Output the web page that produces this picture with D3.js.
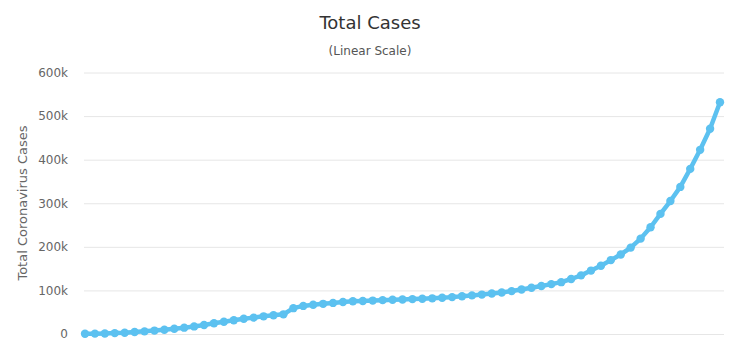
<!DOCTYPE html>
<html><head><meta charset="utf-8">
<script src="https://cdn.jsdelivr.net/npm/d3@7"></script>
<style>body{margin:0;background:#fff;}svg{display:block;font-family:"DejaVu Sans","Lucida Grande",sans-serif;}</style>
</head><body>
<svg id="c" width="740" height="342"></svg>
<script>
const dates = ["Jan 22","Jan 23","Jan 24","Jan 25","Jan 26","Jan 27","Jan 28","Jan 29","Jan 30","Jan 31",
"Feb 01","Feb 02","Feb 03","Feb 04","Feb 05","Feb 06","Feb 07","Feb 08","Feb 09","Feb 10","Feb 11","Feb 12","Feb 13","Feb 14","Feb 15","Feb 16","Feb 17","Feb 18","Feb 19","Feb 20","Feb 21","Feb 22","Feb 23","Feb 24","Feb 25","Feb 26","Feb 27","Feb 28","Feb 29",
"Mar 01","Mar 02","Mar 03","Mar 04","Mar 05","Mar 06","Mar 07","Mar 08","Mar 09","Mar 10","Mar 11","Mar 12","Mar 13","Mar 14","Mar 15","Mar 16","Mar 17","Mar 18","Mar 19","Mar 20","Mar 21","Mar 22","Mar 23","Mar 24","Mar 25","Mar 26"];
const totalCases = [580,845,1317,2015,2800,4581,6058,7813,9823,11950,
14553,17391,20630,24545,28266,31439,34876,37552,40553,43099,45134,59287,64438,67100,69197,71329,73332,75184,75700,76677,77673,78651,79205,80087,80828,81820,83112,84615,86604,
88585,90443,93016,95314,98425,102050,106099,109991,114381,118948,126214,134576,145483,156653,169593,182490,198238,218822,244933,275597,305036,337489,378830,422574,471035,531865];
const yTicks = [0,100000,200000,300000,400000,500000,600000];
const yTickLabels = ["0","100k","200k","300k","400k","500k","600k"];

(function(){
const svg = d3.select("#c");
const pL = 84, pR = 724, pT = 72.5, pB = 334;
const x = d3.scalePoint().domain(dates).range([85, 720]);
const y = d3.scaleLinear().domain([0, 600000]).range([pB, pT]);

svg.append("text").attr("x", 370).attr("y", 29).attr("text-anchor","middle")
  .attr("font-size", 18).attr("fill","#333").text("Total Cases");
svg.append("text").attr("x", 370).attr("y", 55).attr("text-anchor","middle")
  .attr("font-size", 12).attr("fill","#555").text("(Linear Scale)");

const yAxis = d3.axisLeft(y).tickValues(yTicks).tickFormat((d,i)=>yTickLabels[i]).tickSize(-(pR-pL)).tickPadding(16);
const g = svg.append("g").attr("transform", `translate(${pL},0)`).call(yAxis);
g.select(".domain").remove();
g.selectAll(".tick line").attr("stroke","#e6e6e6").attr("stroke-width",1);
g.selectAll(".tick text").attr("fill","#666").attr("font-size",12).attr("font-family","DejaVu Sans, sans-serif");

svg.append("text").attr("transform","translate(27,203) rotate(-90)").attr("text-anchor","middle")
  .attr("font-size",13).attr("fill","#666").text("Total Coronavirus Cases");

const color = "#5cc1f0";
const line = d3.line().x((d,i)=>x(dates[i])).y(d=>y(d));
svg.append("path").datum(totalCases).attr("d", line).attr("fill","none")
  .attr("stroke", color).attr("stroke-width", 4.5).attr("stroke-linejoin","round");
svg.append("g").selectAll("circle").data(totalCases).join("circle")
  .attr("cx",(d,i)=>x(dates[i])).attr("cy",d=>y(d)).attr("r",4.2).attr("fill",color);
})();
</script>
</body></html>
